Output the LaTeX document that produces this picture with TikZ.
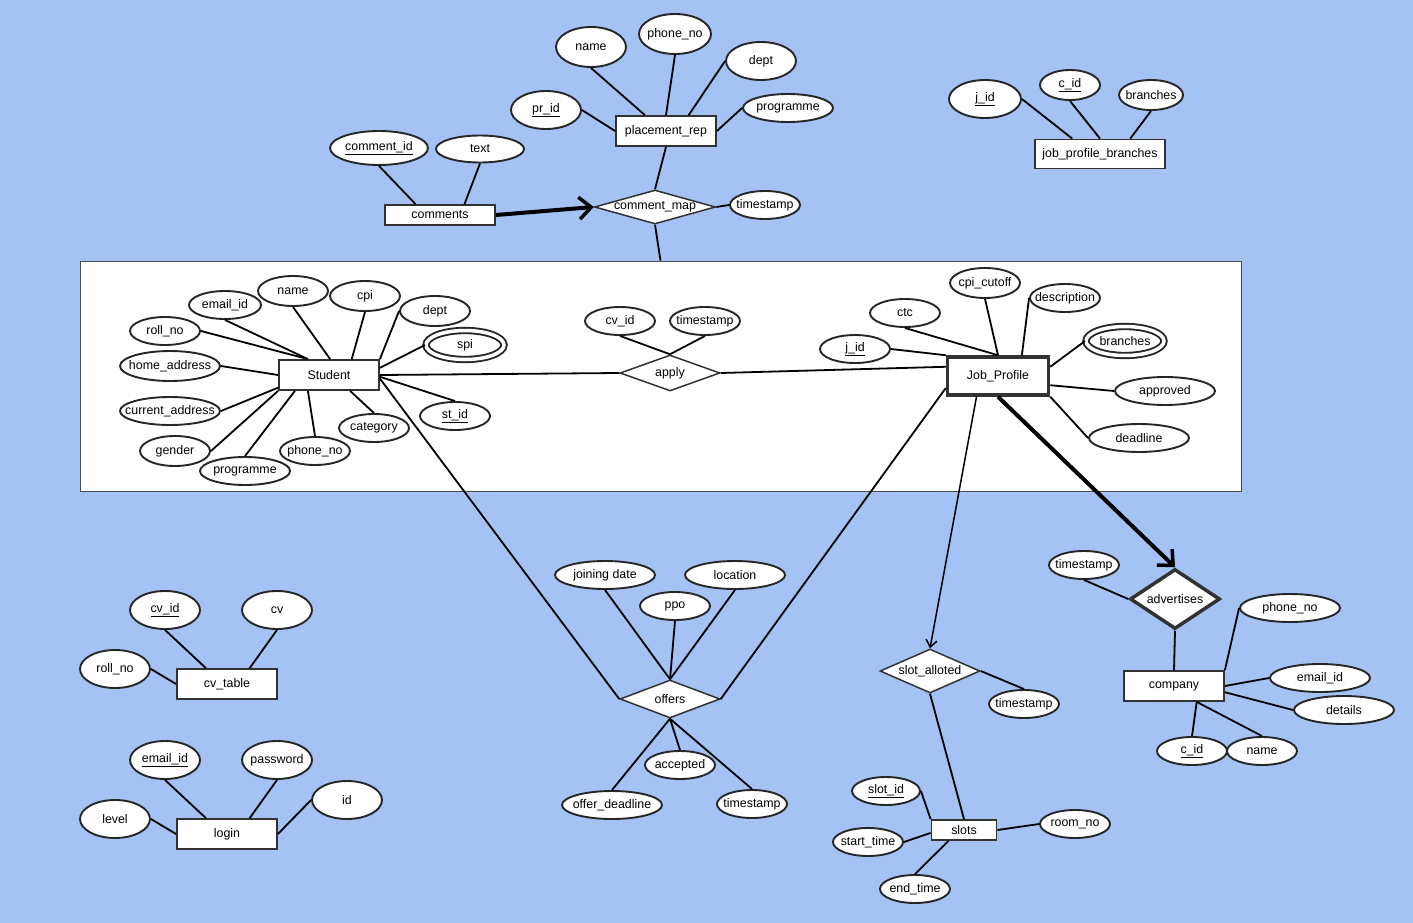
\documentclass[tikz,border=0pt]{standalone}
\usepackage{fontspec}
\setmainfont{Liberation Sans}
\usetikzlibrary{shapes.geometric,arrows.meta}
\definecolor{bgblue}{RGB}{164,194,244}
\definecolor{edgegray}{RGB}{50,50,50}
\tikzset{
  attr/.style={ellipse, draw=black!85, line width=1.9pt, fill=white, inner sep=0pt,
    minimum width=70pt, minimum height=28pt,
    execute at begin node={\hbox to 0pt\bgroup\hss},
    execute at end node={\hss\egroup}},
  multi/.style={attr, double=white, double distance=3.5pt, minimum width=78pt, minimum height=29pt},
  ent/.style={rectangle, draw=edgegray, line width=1.8pt, fill=white, inner sep=0pt,
    minimum width=100pt, minimum height=30pt},
  rel/.style={diamond, draw=edgegray, line width=1.5pt, fill=white, inner sep=0pt,
    minimum width=100pt, minimum height=36pt,
    execute at begin node={\hbox to 0pt\bgroup\hss},
    execute at end node={\hss\egroup}},
  link/.style={line width=1.8pt},
  heavy/.style={line width=4pt, -{Straight Barb[length=12pt,width=22pt,line width=3.5pt]}},
  thinarrow/.style={line width=1.5pt, -{Straight Barb[length=7pt,width=11pt]}}
}
\begin{document}
\begin{tikzpicture}[x=1pt,y=-1pt,font=\fontsize{12.4}{14}\selectfont]
\fill[bgblue] (0,0) rectangle (1413,923);
\useasboundingbox (0,0) rectangle (1413,923);
\node[draw=black!70, line width=0.8pt, fill=white, minimum width=1161pt, minimum height=230pt] (agg) at (660.5,376) {};

% student and its attributes
\node[ent] (student) at (329,375) {Student};
\node[attr] (sroll) at (165,331) {roll\_no};
\node[attr, minimum width=72pt] (semail) at (225,305) {email\_id};
\node[attr, minimum height=30pt] (sname) at (293,291) {name};
\node[attr, minimum height=30pt] (scpi) at (365,296) {cpi};
\node[attr, minimum height=30pt] (sdept) at (435,311) {dept};
\node[multi] (sspi) at (465,345) {spi};
\node[attr, minimum width=100pt, minimum height=30pt] (shome) at (170,366) {home\_address};
\node[attr, minimum width=100pt] (scur) at (170,411) {current\_address};
\node[attr, minimum height=30pt] (sgender) at (175,451) {gender};
\node[attr, minimum width=90pt] (sprog) at (245,471) {programme};
\node[attr] (sphone) at (315,451) {phone\_no};
\node[attr] (scat) at (374,428) {category};
\node[attr] (sstid) at (455,416) {\underline{st\_id}};
\draw[link] (sroll.east) -- (student.143);
\draw[link] (semail.south) -- (student.143);
\draw[link] (sname.south) -- (student.86);
\draw[link] (scpi.south) -- (student.35);
\draw[link] (sdept.west) -- (student.north east);
\draw[link] (sspi.west) -- (student.8);
\draw[link] (shome.east) -- (student.west);
\draw[link] (scur.east) -- (student.194);
\draw[link] (sgender.east) -- (student.south west);
\draw[link] (sprog.north) -- (student.205);
\draw[link] (sphone.north) -- (student.217);
\draw[link] (scat.north) -- (student.323);
\draw[link] (sstid.north) -- (student.358);

% apply
\node[rel] (apply) at (670,373) {apply};
\node[attr] (acvid) at (620,321) {cv\_id};
\node[attr] (ats) at (705,321) {timestamp};
\draw[link] (acvid.south) -- (apply.north);
\draw[link] (ats.south) -- (apply.north);

% job profile
\node[ent, line width=3.5pt, minimum width=101pt, minimum height=38pt] (jp) at (998,376) {Job\_Profile};
\node[attr] (jjid) at (855,349) {\underline{j\_id}};
\node[attr] (jctc) at (905,313) {ctc};
\node[attr, minimum height=30pt] (jcpic) at (985,283) {cpi\_cutoff};
\node[attr] (jdesc) at (1065,298) {description};
\node[multi] (jbr) at (1125,341) {branches};
\node[attr, minimum width=100pt] (jappr) at (1165,391) {approved};
\node[attr, minimum width=100pt] (jdead) at (1139,438) {deadline};
\draw[link] (jjid.east) -- (jp.north west);
\draw[link] (jctc.south) -- (jp.north);
\draw[link] (jcpic.south) -- (jp.north);
\draw[link] (jdesc.west) -- (jp.41);
\draw[link] (jbr.west) -- (jp.10);
\draw[link] (jappr.west) -- (jp.350);
\draw[link] (jdead.west) -- (jp.south east);
\draw[link] (student.east) -- (apply.west);
\draw[link] (apply.east) -- (jp.170);

% placement rep and comments
\node[ent] (prep) at (666,131) {placement\_rep};
\node[attr, minimum height=38pt] (ppr) at (546,110) {\underline{pr\_id}};
\node[attr, minimum height=40pt] (pname) at (591,47) {name};
\node[attr, minimum width=72pt, minimum height=40pt] (pphone) at (675,34) {phone\_no};
\node[attr, minimum height=38pt] (pdept) at (761,61) {dept};
\node[attr, minimum width=90pt] (pprog) at (788,108) {programme};
\draw[link] (ppr.east) -- (prep.west);
\draw[link] (pname.south) -- (prep.143);
\draw[link] (pphone.south) -- (prep.north);
\draw[link] (pdept.west) -- (prep.35);
\draw[link] (pprog.west) -- (prep.east);
\node[rel, minimum width=121pt, minimum height=34pt] (cmap) at (655,207) {comment\_map};
\node[attr] (cmts) at (765,205) {timestamp};
\node[ent, minimum width=110pt, minimum height=20pt] (comments) at (440,215) {comments};
\node[attr, minimum width=98pt, minimum height=34pt] (cid) at (379,148) {\underline{comment\_id}};
\node[attr, minimum width=88pt, minimum height=27pt] (ctext) at (480,149) {text};
\draw[link] (cid.south) -- (comments.156);
\draw[link] (ctext.south) -- (comments.24);
\draw[heavy] (comments.east) -- (cmap.west);
\draw[link] (cmap.north) -- (prep.south);
\draw[link] (cmap.south) -- (agg.north);
\draw[link] (cmap.east) -- (cmts.west);

% job profile branches
\node[ent, minimum width=130pt, minimum height=29pt] (jpb) at (1100,154) {job\_profile\_branches};
\node[attr, minimum width=72pt, minimum height=38pt] (bjid) at (985,99) {\underline{j\_id}};
\node[attr, minimum width=60pt, minimum height=30pt] (bcid) at (1070,85) {\underline{c\_id}};
\node[attr, minimum width=64pt, minimum height=30pt] (bbr) at (1151,95) {branches};
\draw[link] (bjid.east) -- (jpb.151);
\draw[link] (bcid.south) -- (jpb.north);
\draw[link] (bbr.south) -- (jpb.27);

% offers
\node[rel, minimum height=38pt] (offers) at (670,699) {offers};
\node[attr, minimum width=100pt] (ojoin) at (605,575) {joining date};
\node[attr] (oppo) at (675,606) {ppo};
\node[attr, minimum width=100pt] (oloc) at (735,575) {location};
\node[attr, minimum width=100pt] (odead) at (612,805) {offer\_deadline};
\node[attr] (oacc) at (680,765) {accepted};
\node[attr] (ots) at (752,804) {timestamp};
\draw[link] (ojoin.south) -- (offers.north);
\draw[link] (oppo.south) -- (offers.north);
\draw[link] (oloc.south) -- (offers.north);
\draw[link] (odead.north) -- (offers.south);
\draw[link] (oacc.north) -- (offers.south);
\draw[link] (ots.north) -- (offers.south);
\draw[link] (student.-4) -- (offers.west);
\draw[link] (jp.193) -- (offers.east);

% slots
\node[rel, minimum height=44pt] (slot) at (930,671) {slot\_alloted};
\node[attr] (slts) at (1024,704) {timestamp};
\node[ent, minimum width=65pt, minimum height=20pt] (slots) at (964,830) {slots};
\node[attr, minimum width=68pt] (slid) at (886,791) {\underline{slot\_id}};
\node[attr] (slstart) at (868,842) {start\_time};
\node[attr] (slend) at (915,889) {end\_time};
\node[attr] (slroom) at (1075,824) {room\_no};
\draw[thinarrow] (jp.224) -- (slot.north);
\draw[link] (slot.east) -- (slts.north);
\draw[link] (slot.south) -- (slots.north);
\draw[link] (slid.east) -- (slots.north west);
\draw[link] (slstart.east) -- (slots.185);
\draw[link] (slend.north) -- (slots.215);
\draw[link] (slroom.west) -- (slots.east);

% company
\node[rel, line width=3.5pt, minimum width=90pt, minimum height=60pt] (adv) at (1175,599) {advertises};
\node[attr] (advts) at (1084,565) {timestamp};
\node[ent] (company) at (1174,686) {company};
\node[attr, minimum width=100pt] (cphone) at (1290,608) {phone\_no};
\node[attr, minimum width=100pt] (cemail) at (1320,678) {email\_id};
\node[attr, minimum width=100pt] (cdet) at (1344,710) {details};
\node[attr] (ccid) at (1192,751) {\underline{c\_id}};
\node[attr] (cname) at (1262,751) {name};
\draw[heavy] (jp.south) -- (adv.north);
\draw[link] (advts.south) -- (adv.west);
\draw[link] (adv.south) -- (company.north);
\draw[link] (cphone.west) -- (company.north east);
\draw[link] (cemail.west) -- (company.east);
\draw[link] (cdet.west) -- (company.353);
\draw[link] (ccid.north) -- (company.325);
\draw[link] (cname.north) -- (company.325);

% cv table and login
\node[ent] (cvt) at (227,684) {cv\_table};
\node[attr, minimum height=38pt] (cvid) at (165,610) {\underline{cv\_id}};
\node[attr, minimum height=38pt] (cvcv) at (277,610) {cv};
\node[attr, minimum height=38pt] (cvroll) at (115,669) {roll\_no};
\draw[link] (cvid.south) -- (cvt.143);
\draw[link] (cvcv.south) -- (cvt.35);
\draw[link] (cvroll.east) -- (cvt.west);
\node[ent] (login) at (227,834) {login};
\node[attr, minimum height=38pt] (lemail) at (165,760) {\underline{email\_id}};
\node[attr, minimum height=38pt] (lpass) at (277,760) {password};
\node[attr, minimum height=38pt] (lid) at (347,800) {id};
\node[attr, minimum height=38pt] (llevel) at (115,819) {level};
\draw[link] (lemail.south) -- (login.143);
\draw[link] (lpass.south) -- (login.35);
\draw[link] (lid.west) -- (login.east);
\draw[link] (llevel.east) -- (login.west);
\end{tikzpicture}
\end{document}
